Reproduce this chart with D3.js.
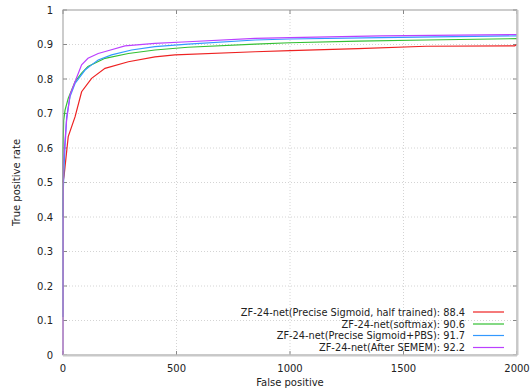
<!DOCTYPE html>
<html><head><meta charset="utf-8">
<script src="https://cdn.jsdelivr.net/npm/d3@7"></script>
<style>body{margin:0;background:#fff}svg{display:block}text{font-family:"DejaVu Sans",sans-serif;fill:#222}</style>
</head><body><svg id="c" width="531" height="389"></svg>
<script>
const xTicks = [0, 500, 1000, 1500, 2000];
const yTicks = [0, 0.1, 0.2, 0.3, 0.4, 0.5, 0.6, 0.7, 0.8, 0.9, 1];
const seriesNames = [
  "ZF-24-net(Precise Sigmoid, half trained): 88.4",
  "ZF-24-net(softmax): 90.6",
  "ZF-24-net(Precise Sigmoid+PBS): 91.7",
  "ZF-24-net(After SEMEM): 92.2"
];
const seriesColors = ["#ee2222", "#33c033", "#3399ff", "#bb40ff"];
const redFP   = [0, 5, 9, 23, 53, 82, 126, 185, 288, 405, 493, 846, 1000, 1300, 1600, 1990, 2000];
const redTPR  = [0.50, 0.52, 0.546, 0.633, 0.69, 0.763, 0.802, 0.831, 0.85, 0.864, 0.87, 0.879, 0.882, 0.888, 0.895, 0.896, 0.90];
const greenFP  = [0, 0, 3, 9, 23, 53, 82, 110, 185, 288, 405, 550, 846, 1000, 1300, 1600, 2000];
const greenTPR = [0.40, 0.60, 0.68, 0.71, 0.744, 0.792, 0.817, 0.836, 0.86, 0.874, 0.884, 0.892, 0.901, 0.905, 0.91, 0.913, 0.917];
const blueFP  = [0, 0, 5, 9, 16, 31, 53, 97, 126, 155, 214, 302, 405, 550, 846, 1000, 1400, 2000];
const blueTPR = [0.11, 0.45, 0.55, 0.604, 0.69, 0.749, 0.787, 0.826, 0.841, 0.855, 0.87, 0.884, 0.894, 0.901, 0.913, 0.916, 0.92, 0.925];
const purpleFP  = [0, 1, 16, 31, 53, 82, 110, 155, 198, 273, 405, 550, 846, 1000, 1400, 2000];
const purpleTPR = [0, 0.556, 0.681, 0.754, 0.792, 0.841, 0.86, 0.874, 0.882, 0.896, 0.903, 0.908, 0.918, 0.92, 0.925, 0.929];

const seriesFP = [redFP, greenFP, blueFP, purpleFP];
const seriesTPR = [redTPR, greenTPR, blueTPR, purpleTPR];

const svg = d3.select("#c");
const L = 63, R = 517, T = 10, B = 355;
const x = d3.scaleLinear().domain([0, 2000]).range([L, R]);
const y = d3.scaleLinear().domain([0, 1]).range([B, T]);

// grid
const g = svg.append("g");
g.selectAll(".gx").data(xTicks.slice(1, -1)).join("line")
  .attr("x1", d => x(d)).attr("x2", d => x(d)).attr("y1", T).attr("y2", B)
  .attr("stroke", "#d4d4d4").attr("stroke-width", 1).attr("stroke-dasharray", "1,2");
g.selectAll(".gy").data(yTicks.slice(1, -1)).join("line")
  .attr("y1", d => y(d)).attr("y2", d => y(d)).attr("x1", L).attr("x2", R)
  .attr("stroke", "#d4d4d4").attr("stroke-width", 1).attr("stroke-dasharray", "1,2");

// ticks inward, mirrored
const tk = svg.append("g").attr("stroke", "#888").attr("stroke-width", 1);
xTicks.forEach(d => {
  tk.append("line").attr("x1", x(d)).attr("x2", x(d)).attr("y1", B).attr("y2", B - 4);
  tk.append("line").attr("x1", x(d)).attr("x2", x(d)).attr("y1", T).attr("y2", T + 4);
});
yTicks.forEach(d => {
  tk.append("line").attr("x1", L).attr("x2", L + 4).attr("y1", y(d)).attr("y2", y(d));
  tk.append("line").attr("x1", R).attr("x2", R - 4).attr("y1", y(d)).attr("y2", y(d));
});

// tick labels
svg.append("g").selectAll("text").data(xTicks).join("text")
  .attr("x", d => x(d)).attr("y", B + 17).attr("text-anchor", "middle")
  .attr("font-size", 10).text(d => d);
svg.append("g").selectAll("text").data(yTicks).join("text")
  .attr("x", L - 10).attr("y", d => y(d) + 3.5).attr("text-anchor", "end")
  .attr("font-size", 10).text(d => d);

// curves
const line = d3.line().x(d => x(d[0])).y(d => y(d[1]));
seriesFP.forEach((fp, i) => {
  const pts = fp.map((f, j) => [f, seriesTPR[i][j]]);
  svg.append("path").datum(pts).attr("d", line).attr("fill", "none")
    .attr("stroke", seriesColors[i]).attr("stroke-width", 1.2);
});

// border
svg.append("rect").attr("x", L).attr("y", T).attr("width", R - L).attr("height", B - T)
  .attr("fill", "none").attr("stroke", "#999").attr("stroke-width", 1);
svg.append("line").attr("x1", L).attr("x2", R).attr("y1", B + 0.5).attr("y2", B + 0.5)
  .attr("stroke", "#c8c8c8").attr("stroke-width", 2);
svg.append("line").attr("x1", R + 0.5).attr("x2", R + 0.5).attr("y1", T).attr("y2", B)
  .attr("stroke", "#c8c8c8").attr("stroke-width", 2);

// legend
const legY = [312, 324, 335.5, 347.5];
seriesNames.forEach((n, i) => {
  svg.append("text").attr("x", 465).attr("y", legY[i] + 3.5).attr("text-anchor", "end")
    .attr("font-size", 9.8).text(n);
  svg.append("line").attr("x1", 473).attr("x2", 504).attr("y1", legY[i]).attr("y2", legY[i])
    .attr("stroke", seriesColors[i]).attr("stroke-width", 1.2);
});

// axis labels
svg.append("text").attr("x", x(1000)).attr("y", 386).attr("text-anchor", "middle")
  .attr("font-size", 10).text("False positive");
svg.append("text").attr("transform", "translate(20," + y(0.5) + ") rotate(-90)")
  .attr("text-anchor", "middle").attr("font-size", 10).text("True positive rate");
</script></body></html>
